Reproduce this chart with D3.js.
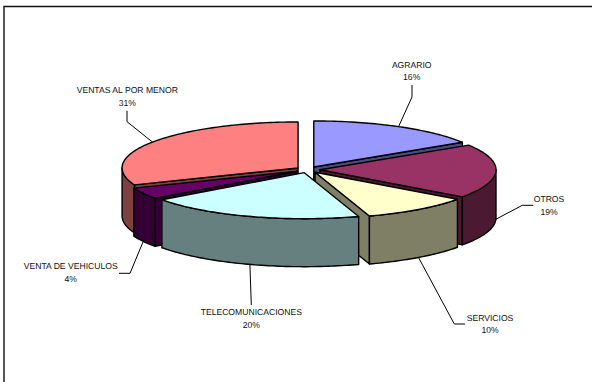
<!DOCTYPE html>
<html>
<head>
<meta charset="utf-8">
<script src="https://cdn.jsdelivr.net/npm/d3@7/dist/d3.min.js"></script>
<style>
html,body{margin:0;padding:0;background:#fff;overflow:hidden}
svg{display:block}
text{font-family:"Liberation Sans",Arial,sans-serif;font-size:8.6px;fill:#111;text-anchor:middle;text-rendering:geometricPrecision}
</style>
</head>
<body>
<svg id="chart" width="592" height="382"></svg>
<script>
const categories = ["AGRARIO","OTROS","SERVICIOS","TELECOMUNICACIONES","VENTA DE VEHICULOS","VENTAS AL POR MENOR"];
const shares = [16,19,10,20,4,31];
const topColors = ["#9999FF","#993366","#FFFFCC","#CCFFFF","#660066","#FF8080"];
const sideColors = ["#4C4C7F","#4C1933","#7F7F66","#667F7F","#330033","#7F4040"];
// label centres and leader elbows (layout only)
const labelCenters = [[411.7,67.7],[549,202],[490,320.7],[251.3,315],[70.7,269.3],[127.3,93.3]];
const leaderBends = [
  [[412,97],[412,85]],
  [[522.3,205.3],[533.3,205.3]],
  [[454.3,324],[465,324]],
  [[251.3,305]],
  [[130,273.3],[119,273.3]],
  [[127,121.7],[127,110.7]]
];
const drawOrder = [5,0,4,1,2,3];

const W=592,H=382, CX=308, CY=169.7, RX=176, RY=46, DEPTH=48, EXPLODE=12/176;
const svg=d3.select("#chart");
const x=d3.scaleLinear().domain([-1,1]).range([CX-RX,CX+RX]);
const y=d3.scaleLinear().domain([-1,1]).range([CY-RY,CY+RY]);
const line=d3.line().x(d=>d[0]).y(d=>d[1]);

const arcs=d3.pie().sort(null).value(d=>d)(shares);

let offsetMid=0;
function proj(a,r,off){ // a clockwise from 12 o'clock
  return [x(off*Math.sin(offsetMid)+r*Math.sin(a)), y(-off*Math.cos(offsetMid)-r*Math.cos(a))];
}
function arcPts(a0,a1){
  const n=Math.max(2,Math.ceil(Math.abs(a1-a0)/0.02));
  return d3.range(n+1).map(i=>proj(a0+(a1-a0)*i/n,1,EXPLODE));
}
const down=p=>[p[0],p[1]+DEPTH];
const PI=Math.PI;

// frame
svg.append("path").attr("d",line([[4,382],[4,6.5],[592,6.5]]))
  .attr("fill","none").attr("stroke","#111").attr("stroke-width",1.4);

const stroke={stroke:"#000","stroke-width":1.4,"stroke-linejoin":"round"};
function face(pts,fill){
  const s=svg.append("path").attr("d",line(pts)+"Z").attr("fill",fill);
  Object.entries(stroke).forEach(([k,v])=>s.attr(k,v));
}
drawOrder.forEach(i=>{
  const a=arcs[i], a0=a.startAngle, a1=a.endAngle;
  offsetMid=(a0+a1)/2;
  const apex=proj(0,0,EXPLODE);
  const side=sideColors[i], top=topColors[i];
  // radial walls facing the viewer
  [[a0,Math.sin(a0)<-1e-6],[a1,Math.sin(a1)>1e-6]].forEach(([ang,vis])=>{
    if(!vis) return;
    const p=proj(ang,1,EXPLODE);
    face([apex,p,down(p),down(apex)],side);
  });
  // outer wall on the front half
  const f0=Math.max(a0,PI/2), f1=Math.min(a1,3*PI/2);
  if(f1>f0){
    const pts=arcPts(f0,f1);
    face(pts.concat(pts.map(down).reverse()),side);
  }
  // top
  face([apex].concat(arcPts(a0,a1)),top);
});

// leaders and labels
arcs.forEach((a,i)=>{
  offsetMid=(a.startAngle+a.endAngle)/2;
  let s=proj(offsetMid,1,EXPLODE);
  if(Math.cos(offsetMid)<0) s=down(s);
  svg.append("path").attr("d",line([s].concat(leaderBends[i])))
    .attr("fill","none").attr("stroke","#000").attr("stroke-width",1);
  const [lx,ly]=labelCenters[i];
  svg.append("text").attr("x",lx).attr("y",ly).text(categories[i]);
  svg.append("text").attr("x",lx).attr("y",ly+12.5).text(shares[i]+"%");
});
</script>
</body>
</html>
